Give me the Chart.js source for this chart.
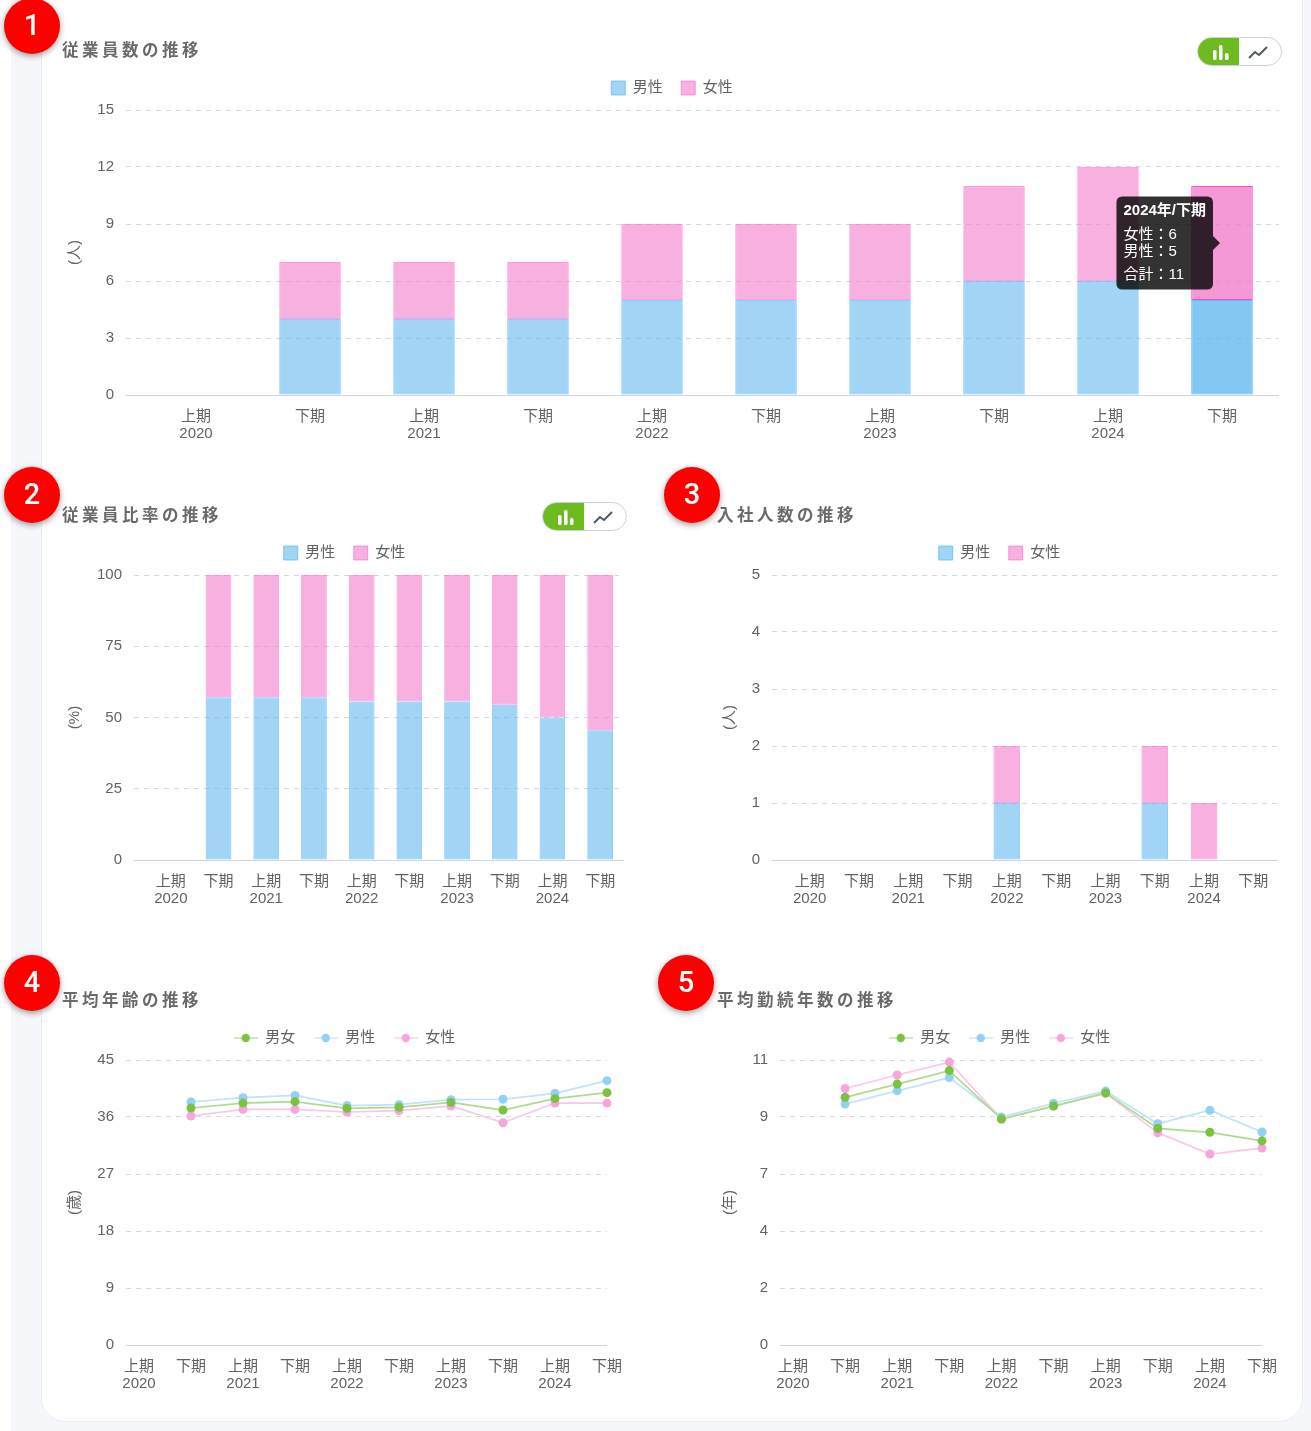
<!DOCTYPE html>
<html lang="ja">
<head>
<meta charset="utf-8">
<title>chart</title>
<script src="https://cdn.jsdelivr.net/npm/chart.js@4/dist/chart.umd.min.js"></script>
<style>
html,body{margin:0;padding:0;width:1311px;height:1431px;overflow:hidden;background:#fff;font-family:"Liberation Sans","Noto Sans CJK JP",sans-serif}
#bg{position:absolute;left:11px;top:0;width:1300px;height:1431px;background:#f5f7fa}
#card{position:absolute;left:41px;top:-40px;width:1260px;height:1460px;background:#fff;border:1px solid #e9ecf1;border-radius:24px}
.box{position:absolute;width:565px;height:385px}
.box.wide{width:1220px}
.box canvas{display:block}
h2{position:absolute;margin:0;font:700 16.5px/22px "Noto Sans CJK JP",sans-serif;letter-spacing:3.5px;color:#6a6a6a;white-space:nowrap}
.badge{position:absolute;width:56px;height:56px;border-radius:50%;background:#fe0000;color:#fff;box-shadow:0 2px 6px rgba(0,0,0,.4);text-align:center;font:500 29px/54px Roboto,sans-serif}
.toggle{position:absolute;width:85px;height:29px;box-sizing:border-box;border:1px solid #ccd3dc;border-radius:15px;background:#fff;overflow:hidden}
.toggle i{position:absolute;left:-1px;top:-1px;width:42px;height:29px;background:#6ebb1f}
.toggle svg{position:absolute;top:0;left:0}
</style>
</head>
<body>
<div id="bg"></div><div id="card"></div>

<div class="box wide" style="left:62px;top:60px"><canvas id="c1" width="1220" height="385"></canvas></div>
<div class="box" style="left:62px;top:525px"><canvas id="c2" width="565" height="385"></canvas></div>
<div class="box" style="left:717px;top:525px"><canvas id="c3" width="565" height="385"></canvas></div>
<div class="box" style="left:62px;top:1010px"><canvas id="c4" width="565" height="385"></canvas></div>
<div class="box" style="left:717px;top:1010px"><canvas id="c5" width="565" height="385"></canvas></div>

<h2 style="left:62px;top:38px">従業員数の推移</h2>
<h2 style="left:62px;top:503px">従業員比率の推移</h2>
<h2 style="left:717px;top:503px">入社人数の推移</h2>
<h2 style="left:62px;top:988px">平均年齢の推移</h2>
<h2 style="left:717px;top:988px">平均勤続年数の推移</h2>

<div class="badge" style="left:4px;top:-2px">1</div>
<div class="badge" style="left:4px;top:467px">2</div>
<div class="badge" style="left:664px;top:467px">3</div>
<div class="badge" style="left:4px;top:955px">4</div>
<div class="badge" style="left:658px;top:955px">5</div>

<div class="toggle" style="left:1197px;top:37px"><i></i><svg width="85" height="29"><g fill="#fff"><rect x="15" y="12" width="3.5" height="10" rx="1.5"/><rect x="21" y="7" width="3.5" height="15" rx="1.5"/><rect x="27" y="15" width="3.5" height="7" rx="1.5"/></g><path d="M51 20l6-6 4 3 8-8" fill="none" stroke="#4f5b66" stroke-width="2"/></svg></div>
<div class="toggle" style="left:542px;top:502px"><i></i><svg width="85" height="29"><g fill="#fff"><rect x="15" y="12" width="3.5" height="10" rx="1.5"/><rect x="21" y="7" width="3.5" height="15" rx="1.5"/><rect x="27" y="15" width="3.5" height="7" rx="1.5"/></g><path d="M51 20l6-6 4 3 8-8" fill="none" stroke="#4f5b66" stroke-width="2"/></svg></div>

<script>
const xLabels=[["上期","2020"],["下期"],["上期","2021"],["下期"],["上期","2022"],["下期"],["上期","2023"],["下期"],["上期","2024"],["下期"]];

const headcountMale=[null,4,4,4,5,5,5,6,6,5];
const headcountFemale=[null,3,3,3,4,4,4,5,6,6];

const ratioMale=[null,57.1,57.1,57.1,55.6,55.6,55.6,54.5,50,45.5];
const ratioFemale=[null,42.9,42.9,42.9,44.4,44.4,44.4,45.5,50,54.5];

const hiresMale=[0,0,0,0,1,0,0,1,0,0];
const hiresFemale=[0,0,0,0,1,0,0,1,1,0];

const ageAll=[null,37.42,38.2,38.42,37.37,37.53,38.3,37.1,38.9,39.84];
const ageMale=[null,38.37,39.05,39.4,37.8,37.95,38.73,38.8,39.73,41.74];
const ageFemale=[null,36.16,37.2,37.2,36.79,37,37.74,35.1,38.2,38.2];

const tenureAll=[null,9.56,10.07,10.59,8.72,9.22,9.73,8.36,8.21,7.88];
const tenureMale=[null,9.3,9.81,10.32,8.8,9.33,9.8,8.54,9.06,8.22];
const tenureFemale=[null,9.9,10.42,10.92,8.72,9.22,9.71,8.19,7.37,7.6];

const BLUE={fill:'rgba(98,183,238,.6)',line:'rgba(90,185,250,.7)',hover:'rgba(98,183,238,.78)',hoverLine:'#5ebcf8',pt:'#94cff5',stroke:'#bfe3fa'};
const PINK={fill:'rgba(242,123,203,.6)',line:'rgba(250,100,205,.6)',hover:'rgba(242,123,203,.78)',hoverLine:'#fc4dcb',pt:'#f5a7dd',stroke:'#f9c6ea'};
const GREEN={pt:'#7cc142',stroke:'#aedb8c'};
const GRID='#d3d9e0', AXIS='#ccd5df', TEXT='#626262';

Chart.defaults.font.family='"Liberation Sans","Noto Sans CJK JP",sans-serif';
Chart.defaults.font.size=15;
Chart.defaults.color=TEXT;

const legendFit={id:'legendFit',
  afterInit(chart){
    const l=chart.legend,f=l.fit;
    l.fit=function(){f.call(this);this.height=48;};
  },
  afterLayout(chart){
    const d=chart.options.layout.padding.right/2;
    chart.legend.left+=d;chart.legend.right+=d;
  }
};

function lineGlyph(c){
  const k=document.createElement('canvas');k.width=24;k.height=10;
  const x=k.getContext('2d');
  x.strokeStyle=c.stroke;x.lineWidth=1.2;x.beginPath();x.moveTo(0,5);x.lineTo(24,5);x.stroke();
  x.fillStyle=c.pt;x.beginPath();x.arc(12,5,4.2,0,Math.PI*2);x.fill();
  return k;
}

function opts(cfg){
  const isZero=c=>c.tick&&c.tick.value===0;
  return {
    responsive:false,animation:false,events:[],
    layout:{padding:{right:cfg.right,top:2,left:0,bottom:0}},
    plugins:{
      legend:{position:'top',labels:cfg.legend},
      tooltip:{
        animation:false,displayColors:false,padding:{x:7,y:6},cornerRadius:6,caretSize:7,caretPadding:2,
        backgroundColor:'rgba(0,0,0,.8)',
        titleFont:{size:15,weight:'bold',lineHeight:1.15},bodyFont:{size:15,lineHeight:1.15},footerFont:{size:15,weight:'normal',lineHeight:1.15},
        titleMarginBottom:6,bodySpacing:0,footerMarginTop:6,
        itemSort:(a,b)=>b.datasetIndex-a.datasetIndex,
        callbacks:{
          title:()=>'2024年/下期',
          label:i=>i.dataset.label+'：'+i.raw,
          footer:items=>'合計：'+items.reduce((s,i)=>s+i.raw,0)
        }
      }
    },
    scales:{
      x:{
        stacked:cfg.stacked,offset:cfg.offset,
        grid:{display:false},border:{display:false},
        ticks:{autoSkip:false,maxRotation:0,minRotation:0,padding:5,color:TEXT,font:{size:15,lineHeight:1.17}},
        afterFit(s){s.height=50;s.paddingTop=0;}
      },
      y:{
        stacked:cfg.stacked,min:0,max:cfg.max,
        title:{display:true,text:cfg.unit,color:TEXT,font:{size:15},padding:{top:4,bottom:0}},
        ticks:{stepSize:cfg.step,padding:12,color:TEXT,callback:v=>String(Math.round(v))},
        grid:{color:c=>isZero(c)?AXIS:GRID,tickColor:c=>isZero(c)?AXIS:GRID,tickLength:13,lineWidth:1,
          tickBorderDash:c=>isZero(c)?[]:[5,5]},
        border:{display:false,dash:c=>isZero(c)?[]:[5,5],dashOffset:3},
        afterFit(s){s.width=cfg.axisWidth;}
      }
    }
  };
}

const barLegend={boxWidth:14,boxHeight:14,padding:18.5,color:TEXT,font:{size:15}};
function lineLegend(){
  const glyphs=[lineGlyph(GREEN),lineGlyph(BLUE),lineGlyph(PINK)];
  return {usePointStyle:true,pointStyleWidth:24,boxHeight:10,padding:18.5,color:TEXT,font:{size:15},
    generateLabels:ch=>ch.data.datasets.map((d,i)=>({text:d.label,pointStyle:glyphs[i],fontColor:TEXT,datasetIndex:i,lineWidth:0,strokeStyle:'transparent',fillStyle:'transparent'}))};
}

function barDatasets(m,f){
  return [
    {label:'男性',data:m,backgroundColor:BLUE.fill,borderColor:BLUE.line,borderWidth:1,hoverBackgroundColor:BLUE.hover,hoverBorderColor:BLUE.hoverLine,hoverBorderWidth:1,categoryPercentage:1,barPercentage:.54,borderSkipped:false},
    {label:'女性',data:f,backgroundColor:PINK.fill,borderColor:PINK.line,borderWidth:1,hoverBackgroundColor:PINK.hover,hoverBorderColor:PINK.hoverLine,hoverBorderWidth:1,categoryPercentage:1,barPercentage:.54,borderSkipped:false}
  ];
}
function lineDatasets(a,m,f){
  const s=(label,data,c)=>({label,data,clip:false,borderColor:c.stroke,backgroundColor:c.pt,pointBackgroundColor:c.pt,pointBorderColor:c.pt,pointRadius:4.5,pointBorderWidth:0,borderWidth:1.7,tension:0,spanGaps:false});
  return [s('男女',a,GREEN),s('男性',m,BLUE),s('女性',f,PINK)];
}

const c1=new Chart(document.getElementById('c1'),{type:'bar',plugins:[legendFit],
  data:{labels:xLabels,datasets:barDatasets(headcountMale,headcountFemale)},
  options:opts({right:3,stacked:true,offset:true,max:15,step:3,unit:'(人)',axisWidth:77,legend:barLegend})});
new Chart(document.getElementById('c2'),{type:'bar',plugins:[legendFit],
  data:{labels:xLabels,datasets:barDatasets(ratioMale,ratioFemale)},
  options:opts({right:3,stacked:true,offset:true,max:100,step:25,unit:'(%)',axisWidth:85,legend:barLegend})});
new Chart(document.getElementById('c3'),{type:'bar',plugins:[legendFit],
  data:{labels:xLabels,datasets:barDatasets(hiresMale,hiresFemale)},
  options:opts({right:4,stacked:true,offset:true,max:5,step:1,unit:'(人)',axisWidth:68,legend:barLegend})});
new Chart(document.getElementById('c4'),{type:'line',plugins:[legendFit],
  data:{labels:xLabels,datasets:lineDatasets(ageAll,ageMale,ageFemale)},
  options:opts({right:18,stacked:false,offset:false,max:45,step:9,unit:'(歳)',axisWidth:77,legend:lineLegend()})});
new Chart(document.getElementById('c5'),{type:'line',plugins:[legendFit],
  data:{labels:xLabels,datasets:lineDatasets(tenureAll,tenureMale,tenureFemale)},
  options:opts({right:18,stacked:false,offset:false,max:11,step:2.2,unit:'(年)',axisWidth:76,legend:lineLegend()})});

const active=[{datasetIndex:0,index:9},{datasetIndex:1,index:9}];
c1.setActiveElements(active);
c1.tooltip.setActiveElements(active,{x:0,y:0});
c1.render();
</script>
</body>
</html>
